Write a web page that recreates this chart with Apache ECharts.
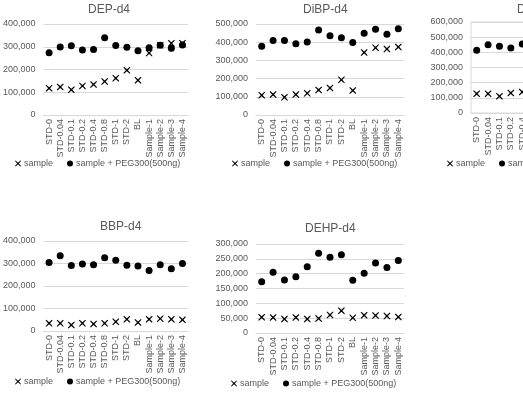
<!DOCTYPE html>
<html>
<head>
<meta charset="utf-8">
<script src="https://cdn.jsdelivr.net/npm/echarts@6/dist/echarts.min.js"></script>
<style>
  html, body { margin: 0; padding: 0; background: #fff; overflow: hidden; }
  /* wider than the window: the third panel runs off the right edge like the source */
  #chart { width: 660px; height: 406px; }
</style>
</head>
<body>
<div id="chart"></div>
<script>
// categories shared by all panels
const categories = ['STD-0', 'STD-0.04', 'STD-0.1', 'STD-0.2', 'STD-0.4', 'STD-0.8', 'STD-1', 'STD-2', 'BL', 'Sample-1', 'Sample-2', 'Sample-3', 'Sample-4']

const depSample = [118000, 123000, 111000, 128000, 134000, 147000, 162000, 197000, 153000, 272000, 307000, 315000, 315000]
const depPeg = [274000, 299000, 304000, 286000, 288000, 340000, 305000, 298000, 282000, 296000, 307000, 293000, 308000]

const dibpSample = [109000, 113000, 97000, 113000, 119000, 137000, 148000, 193000, 135000, 343000, 370000, 363000, 374000]
const dibpPeg = [378000, 409000, 409000, 391000, 401000, 467000, 436000, 425000, 398000, 449000, 471000, 443000, 474000]

// third panel is cut off at the right edge, only the first points are visible
const dnbpSample = [127000, 127000, 110000, 132000, 138000, null, null, null, null, null, null, null, null]
const dnbpPeg = [413000, 450000, 440000, 429000, 455000, null, null, null, null, null, null, null, null]

const bbpSample = [34000, 34000, 27000, 34000, 31000, 34000, 41000, 52000, 38000, 52000, 55000, 52000, 50000]
const bbpPeg = [304000, 334000, 291000, 298000, 295000, 326000, 314000, 292000, 289000, 269000, 295000, 277000, 300000]

const dehpSample = [53000, 52000, 47000, 52000, 47000, 49000, 61000, 75000, 51000, 60000, 59000, 57000, 54000]
const dehpPeg = [173000, 205000, 179000, 190000, 223000, 269000, 255000, 264000, 178000, 201000, 236000, 221000, 244000]

const panels = [
  { title: 'DEP-d4', sample: depSample, peg: depPeg, max: 400000, interval: 100000,
    grid: { left: 42, top: 24, width: 146, height: 91 }, titlePos: [88, 4], legendPos: [15, 159] },
  { title: 'DiBP-d4', sample: dibpSample, peg: dibpPeg, max: 500000, interval: 100000,
    grid: { left: 256, top: 24, width: 148, height: 91 }, titlePos: [303, 4], legendPos: [232, 159] },
  { title: 'DnBP-d4', sample: dnbpSample, peg: dnbpPeg, max: 600000, interval: 100000, box: true,
    grid: { left: 471, top: 22, width: 148, height: 91 }, titlePos: [517, 4], legendPos: [447, 159] },
  { title: 'BBP-d4', sample: bbpSample, peg: bbpPeg, max: 400000, interval: 100000,
    grid: { left: 42, top: 241, width: 146, height: 90 }, titlePos: [100, 221], legendPos: [15, 377] },
  { title: 'DEHP-d4', sample: dehpSample, peg: dehpPeg, max: 300000, interval: 50000,
    grid: { left: 256, top: 244, width: 148, height: 89 }, titlePos: [305, 223], legendPos: [231, 379] }
]

const FONT = 'Liberation Sans'
const GRAY = '#595959'
const LINE = '#d9d9d9'
const crossIcon = 'path://M1,0 L5,3.6 L9,0 L10,1 L6.4,5 L10,9 L9,10 L5,6.4 L1,10 L0,9 L3.6,5 L0,1 Z'

const fmt = v => String(v).replace(/\B(?=(\d{3})+(?!\d))/g, ',')

const option = {
  animation: false,
  textStyle: { fontFamily: FONT },
  title: panels.map(p => ({
    text: p.title,
    left: p.titlePos[0],
    top: p.titlePos[1],
    padding: 0,
    textStyle: { fontSize: 12, fontWeight: 'normal', color: GRAY, fontFamily: FONT }
  })),
  legend: panels.map(p => ({
    left: p.legendPos[0],
    top: p.legendPos[1],
    padding: 0,
    itemWidth: 6,
    itemHeight: 6,
    itemGap: 14,
    textStyle: { fontSize: 9, color: GRAY, fontFamily: FONT, padding: [0, 0, 0, -2] },
    data: [
      { name: 'sample', icon: crossIcon },
      { name: 'sample + PEG300(500ng)', icon: 'circle' }
    ]
  })),
  grid: panels.map(p => ({
    ...p.grid,
    show: !!p.box,
    borderColor: LINE,
    borderWidth: 1
  })),
  xAxis: panels.map((p, i) => ({
    gridIndex: i,
    type: 'category',
    data: categories,
    axisLine: { lineStyle: { color: LINE } },
    axisTick: { show: false },
    axisLabel: { rotate: 90, interval: 0, fontSize: 9, color: GRAY, margin: 4 }
  })),
  yAxis: panels.map((p, i) => ({
    gridIndex: i,
    type: 'value',
    min: 0,
    max: p.max,
    interval: p.interval,
    axisLine: { show: false },
    axisTick: { show: false },
    splitLine: { lineStyle: { color: LINE } },
    axisLabel: { fontSize: 9, color: GRAY, margin: 8, formatter: fmt }
  })),
  series: panels.flatMap((p, i) => [
    {
      name: 'sample',
      type: 'scatter',
      xAxisIndex: i,
      yAxisIndex: i,
      data: p.sample,
      symbol: crossIcon,
      symbolSize: 7,
      itemStyle: { color: '#000', opacity: 1 }
    },
    {
      name: 'sample + PEG300(500ng)',
      type: 'scatter',
      xAxisIndex: i,
      yAxisIndex: i,
      data: p.peg,
      symbol: 'circle',
      symbolSize: 7,
      itemStyle: { color: '#000', opacity: 1 }
    }
  ])
}

const chart = echarts.init(document.getElementById('chart'))
chart.setOption(option)
</script>
</body>
</html>
